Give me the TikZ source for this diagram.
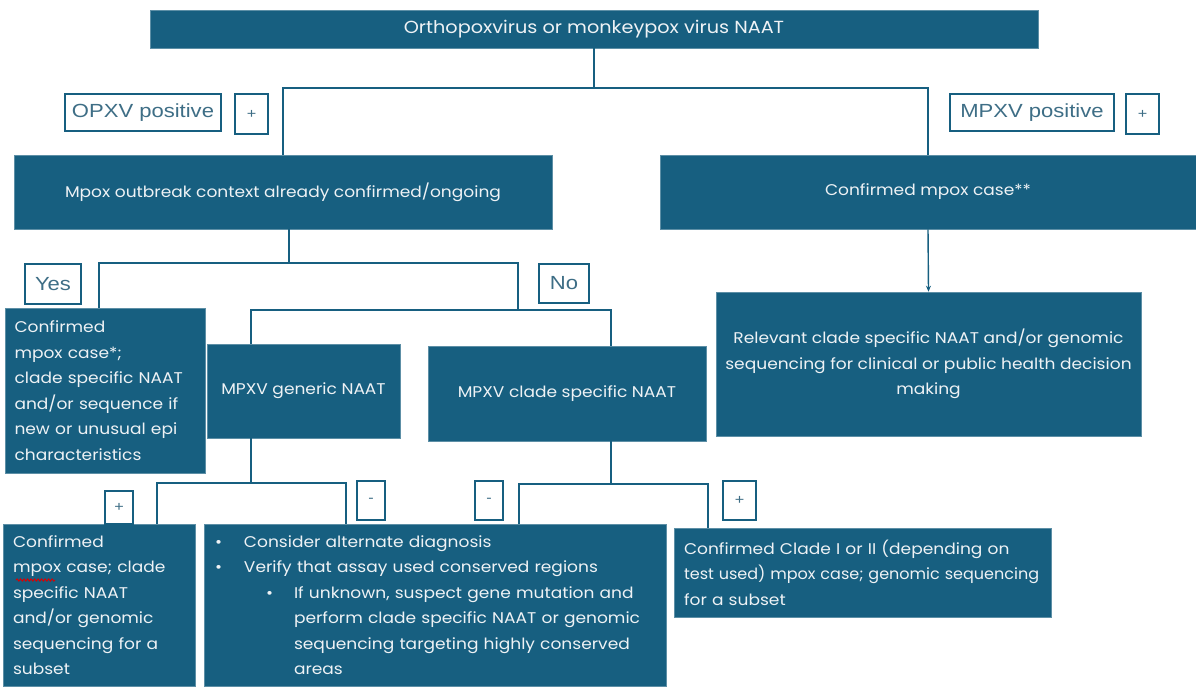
\documentclass[tikz,border=0pt]{standalone}
\usepackage{fontspec}
\setmainfont[FakeStretch=1.1]{Poppins}
\newfontfamily\labfont[FakeStretch=1.16]{Liberation Sans}
\usetikzlibrary{arrows.meta,decorations.pathmorphing}
\definecolor{teal}{RGB}{23,95,128}
\definecolor{labtxt}{RGB}{62,110,134}
\definecolor{boxtxt}{RGB}{238,242,245}
\begin{document}
\begin{tikzpicture}[x=1pt,y=-1pt,
  box/.style={fill=teal,draw=teal!70!white,line width=0.6pt,text=boxtxt,inner sep=0pt,
    font=\fontsize{15.5}{25.5}\selectfont},
  lab/.style={draw=teal,line width=1.2pt,fill=white,text=labtxt,inner sep=0pt,
    font=\labfont\fontsize{19}{22}\selectfont},
  sml/.style={lab,font=\labfont\fontsize{14}{16}\selectfont},
  conn/.style={draw=teal,line width=1.4pt}]
\useasboundingbox (0,0) rectangle (1196,686);
% boxes
\node[box,minimum width=888pt,minimum height=38pt,font=\fontsize{17.5}{20}\selectfont] (top) at (594,29) {Orthopoxvirus or monkeypox virus NAAT};
\node[box,minimum width=538pt,minimum height=74pt] (mpox) at (283,192) {Mpox outbreak context already confirmed/ongoing};
\node[box,minimum width=536pt,minimum height=74pt] (conf) at (928,192) {Confirmed mpox case**};
\node[box,minimum width=197pt,minimum height=165pt,text width=182pt,align=left,inner xsep=9pt] (left) at (105.5,390.5)
  {Confirmed\\ mpox case*;\\ clade specific NAAT\\ and/or sequence if\\ new or unusual epi\\ characteristics};
\node[box,minimum width=193pt,minimum height=94pt] (gen) at (303.5,391) {MPXV generic NAAT};
\node[box,minimum width=278pt,minimum height=95pt] (clade) at (567,393.5) {MPXV clade specific NAAT};
\node[box,minimum width=425pt,minimum height=144pt,align=center] (rel) at (928.5,364)
  {Relevant clade specific NAAT and/or genomic\\ sequencing for clinical or public health decision\\ making};
\node[box,minimum width=186pt,minimum height=162pt,text width=172pt,align=left,inner xsep=10pt] (bl) at (99,605)
  {Confirmed\\ mpox case; clade\\ specific NAAT\\ and/or genomic\\ sequencing for a\\ subset};
\node[box,minimum width=458pt,minimum height=162pt,text width=440pt,align=left,inner xsep=11pt] (bm) at (435,605)
  {\makebox[29pt][l]{\textbullet}Consider alternate diagnosis\\
   \makebox[29pt][l]{\textbullet}Verify that assay used conserved regions\\
   \hspace*{51pt}\makebox[28pt][l]{\textbullet}If unknown, suspect gene mutation and\\
   \hspace*{79pt}perform clade specific NAAT or genomic\\
   \hspace*{79pt}sequencing targeting highly conserved\\
   \hspace*{79pt}areas};
\node[box,minimum width=377pt,minimum height=89pt,text width=357pt,align=left,inner xsep=10pt] (br) at (862.5,572.5)
  {\mbox{Confirmed Clade I or II (depending on}\\ \scalebox{0.94}[1]{test used) mpox case; genomic sequencing}\\ \mbox{for a subset}};
% labels
\node[lab,minimum width=156pt,minimum height=37pt] (opxv) at (143,112.5) {OPXV positive};
\node[sml,minimum width=33pt,minimum height=40pt] (plusA) at (251.5,114) {+};
\node[lab,minimum width=164pt,minimum height=37pt] (mpxv) at (1032,112.5) {MPXV positive};
\node[sml,minimum width=33pt,minimum height=40pt] (plusB) at (1142.5,114) {+};
\node[lab,minimum width=56pt,minimum height=40pt] (yes) at (53,284) {Yes};
\node[lab,minimum width=50pt,minimum height=39pt] (no) at (564,283.5) {No};
\node[sml,minimum width=28pt,minimum height=33pt] (plusC) at (119,507.5) {+};
\node[sml,minimum width=28pt,minimum height=39pt] (minA) at (371,500.5) {-};
\node[sml,minimum width=28pt,minimum height=39pt] (minB) at (489,500.5) {-};
\node[sml,minimum width=33pt,minimum height=39pt] (plusD) at (739.5,500.5) {+};
% junctions
\coordinate (j1) at (594,88);
\coordinate (j2) at (289,263);
\coordinate (j3) at (518,310);
\coordinate (j4) at (251,483);
\coordinate (j5) at (611,484);
% connectors
\draw[conn] (top.south) -- (j1);
\draw[conn] (mpox.north) |- (j1) -| (conf.north);
\draw[conn] (j2 |- mpox.south) -- (j2);
\draw[conn] (99,0 |- left.north) |- (j2) -| (j3);
\draw[conn] (251,0 |- gen.north) |- (j3) -| (611,0 |- clade.north);
\draw[conn] (j4 |- gen.south) -- (j4);
\draw[conn] (157,0 |- bl.north) |- (j4) -| (346,0 |- bm.north);
\draw[conn] (j5 |- clade.south) -- (j5);
\draw[conn] (519,0 |- bm.north) |- (j5) -| (708,0 |- br.north);
\draw[conn,-{Stealth[length=6pt,width=5pt]}] (conf.south) -- (rel.north);
% spell-check squiggle
\draw[red!85!black,line width=0.9pt,decorate,decoration={snake,amplitude=1.1pt,segment length=3.5pt}] (16,580) -- (55,580);
\end{tikzpicture}
\end{document}
